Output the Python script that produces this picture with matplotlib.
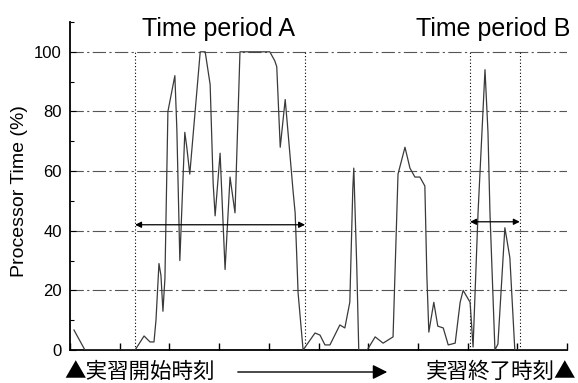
import matplotlib
matplotlib.use("Agg")
import matplotlib.pyplot as plt
from matplotlib.ticker import MultipleLocator

plt.rcParams['font.family'] = ['Liberation Sans', 'DejaVu Sans']

# ---- data ----
time = [0.8, 3.0, 13.1, 14.9, 16.1, 16.9, 17.3, 17.9, 18.3, 18.7, 19.1, 19.7, 21.1, 21.5,
        22.1, 23.1, 23.5, 24.1, 26.2, 27.2, 28.2, 28.8, 29.2, 30.2, 31.2, 32.2, 33.2, 34.2,
        40.2, 41.2, 41.6, 42.3, 43.3, 44.9, 45.3, 45.9, 46.9, 49.3, 50.3, 51.3, 52.3, 54.3,
        55.3, 56.3, 56.9, 57.1, 57.7, 58.1, 59.8, 61.4, 63.0, 65.0, 66.0, 67.4, 68.4, 69.4,
        70.4, 71.4, 71.8, 72.2, 73.2, 74.0, 75.1, 76.1, 77.5, 78.5, 79.1, 80.5, 81.1, 82.1,
        83.5, 84.1, 84.5, 85.5, 86.1, 87.5, 88.5, 89.5, 100.0]
cpu = [6.7, 0, 0, 4.7, 2.7, 2.7, 10, 29, 25, 13, 24, 80, 92, 74,
       30, 73, 68, 59, 100, 100, 89, 56, 45, 66, 27, 58, 46, 100,
       100, 97, 95, 68, 84, 53, 46, 19, 0, 5.7, 5, 1.7, 1.7, 8.4,
       7.4, 16, 54, 61, 28, 0, 0, 4.4, 2.3, 4.4, 59, 68, 61, 58,
       58, 55, 25, 6, 16, 8, 7.4, 1.7, 2.3, 16, 20, 16, 1, 46,
       94, 73, 46, 0, 2, 41, 31, 0, 0]

period_a = (13.1, 47.3)
period_b = (80.5, 90.5)
arrow_a_level = 42
arrow_b_level = 43
y_ticks = [0, 20, 40, 60, 80, 100]
period_labels = ["Time period A", "Time period B"]
ylabel = "Processor Time (%)"
start_label = "▲実習開始時刻"
end_label = "実習終了時刻▲"

# ---- figure ----
fig = plt.figure(figsize=(5.78, 3.83), dpi=100)
ax = fig.add_axes([70/578, 1 - 350/383, 497/578, 328/383])
ax.set_xlim(0, 100)
ax.set_ylim(0, 110)

for y in y_ticks[1:]:
    ax.axhline(y, color='#555555', lw=0.8, ls=(0, (12, 3, 2, 3)), zorder=1)
for x in list(period_a) + list(period_b):
    ax.plot([x, x], [0, 100], color='black', lw=0.8, ls=(0, (1, 2)), zorder=1)

ax.plot(time, cpu, color='#3a3a3a', lw=0.9, zorder=3)

arrowprops = dict(arrowstyle='<|-|>', color='black', lw=0.9, mutation_scale=9,
                  shrinkA=0, shrinkB=0)
ax.annotate('', xy=(period_a[1], arrow_a_level), xytext=(period_a[0], arrow_a_level),
            arrowprops=arrowprops, zorder=4)
ax.annotate('', xy=(period_b[1], arrow_b_level), xytext=(period_b[0], arrow_b_level),
            arrowprops=arrowprops, zorder=4)

ax.text(sum(period_a) / 2 - 0.3, 105.4, period_labels[0], ha='center', va='baseline',
        fontsize=18, clip_on=False)
ax.text(85.2, 105.4, period_labels[1], ha='center', va='baseline',
        fontsize=18, clip_on=False)

for s in ['top', 'right']:
    ax.spines[s].set_visible(False)
for s in ['left', 'bottom']:
    ax.spines[s].set_linewidth(1.3)

ax.set_yticks(y_ticks)
ax.yaxis.set_minor_locator(MultipleLocator(10))
ax.xaxis.set_major_locator(MultipleLocator(10))
ax.tick_params(axis='y', which='major', direction='in', length=4, width=0.8,
               labelsize=12, pad=6)
ax.tick_params(axis='y', which='minor', direction='in', length=3, width=0.8)
ax.tick_params(axis='x', which='major', direction='in', length=5, width=1.0,
               labelbottom=False)

fig.text(20/578, 1 - 191/383, ylabel, rotation=90, ha='center', va='center', fontsize=14)

jp = ['Noto Sans CJK JP', 'DejaVu Sans']
fig.text(64/578, 1 - 372/383, start_label, ha='left', va='center', fontsize=15.5, family=jp)
fig.text(576/578, 1 - 372/383, end_label, ha='right', va='center', fontsize=15.5, family=jp)
fig.add_artist(matplotlib.patches.FancyArrowPatch(
    (235/578, 1 - 372/383), (390/578, 1 - 372/383), transform=fig.transFigure,
    arrowstyle='-|>', mutation_scale=22, color='black', lw=1.0))

fig.savefig('out.png', dpi=100)
